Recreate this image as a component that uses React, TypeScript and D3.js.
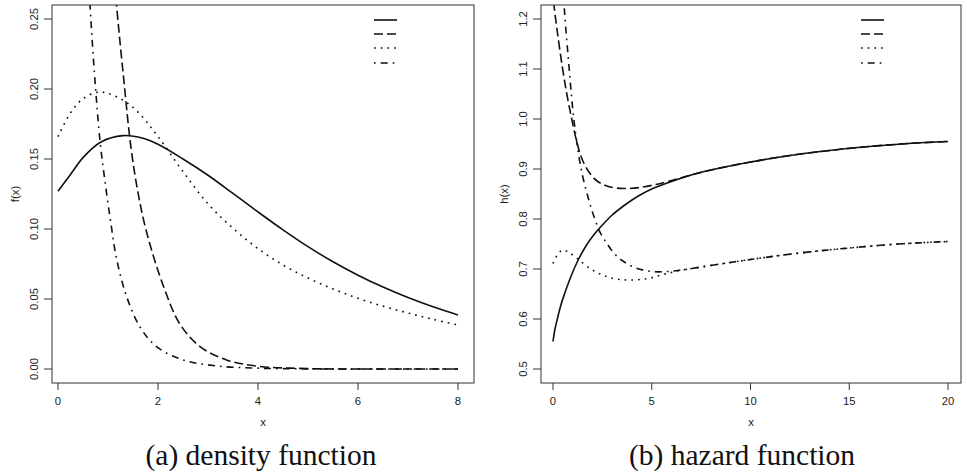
import * as d3 from "d3";

type Pt = [number, number];

// tick values
const densityXTicks = [0, 2, 4, 6, 8];
const densityYTicks = [0, 0.05, 0.1, 0.15, 0.2, 0.25];
const hazardXTicks = [0, 5, 10, 15, 20];
const hazardYTicks = [0.5, 0.6, 0.7, 0.8, 0.9, 1.0, 1.1, 1.2];

// (a) density curves
const densitySolid: Pt[] = [
  [0, 0.127], [0.25, 0.139], [0.5, 0.151], [0.85, 0.162], [1.3, 0.1667], [1.7, 0.1648],
  [2, 0.1605], [2.5, 0.15], [3, 0.1384], [3.5, 0.1254], [4, 0.1122], [4.5, 0.0994],
  [5, 0.0874], [5.5, 0.0766], [6, 0.067], [6.5, 0.0585], [7, 0.051], [7.5, 0.0444], [8, 0.0386],
];
const densityDashed: Pt[] = [
  [1.0, 0.33], [1.17, 0.26], [1.32, 0.205], [1.46, 0.158], [1.6, 0.126], [1.77, 0.098],
  [2.1, 0.06], [2.44, 0.032], [2.84, 0.016], [3.37, 0.0065], [4, 0.002], [5, 0.0003],
  [6, 0], [8, 0],
];
const densityDotted: Pt[] = [
  [0, 0.166], [0.25, 0.183], [0.5, 0.193], [0.8, 0.1978], [1.0, 0.1968], [1.3, 0.192],
  [1.6, 0.1835], [2, 0.166], [2.5, 0.141], [3, 0.118], [3.5, 0.1005], [4, 0.086],
  [4.5, 0.0743], [5, 0.065], [5.5, 0.0572], [6, 0.0505], [6.5, 0.0449], [7, 0.04],
  [7.5, 0.0355], [8, 0.0314],
];
const densityDotDash: Pt[] = [
  [0.5, 0.36], [0.64, 0.26], [0.74, 0.206], [0.84, 0.163], [0.94, 0.134], [1.05, 0.106],
  [1.17, 0.079], [1.37, 0.052], [1.64, 0.03], [1.97, 0.016], [2.5, 0.0065], [3.17, 0.0022],
  [4, 0.0006], [5, 0.0001], [6, 0], [8, 0],
];

// (b) hazard curves
const hazardSolid: Pt[] = [
  [0, 0.555], [0.1, 0.58], [0.22, 0.6], [0.4, 0.628], [0.6, 0.652], [0.8, 0.674], [1.0, 0.694],
  [1.3, 0.72], [1.7, 0.748], [2.1, 0.77], [2.5, 0.788], [3, 0.808], [3.5, 0.824], [4, 0.838],
  [4.5, 0.85], [5, 0.86], [6, 0.875], [7, 0.888], [8, 0.898], [10, 0.914], [12, 0.927],
  [14, 0.937], [16, 0.945], [18, 0.951], [20, 0.955],
];
const hazardDashed: Pt[] = [
  [0, 1.26], [0.05, 1.228], [0.2, 1.18], [0.45, 1.11], [0.7, 1.05], [0.95, 1.0], [1.2, 0.955],
  [1.45, 0.922], [1.8, 0.895], [2.2, 0.877], [2.8, 0.865], [3.6, 0.861], [4.4, 0.863],
  [5.2, 0.869], [6, 0.877], [7, 0.888], [8, 0.898], [10, 0.914], [12, 0.927], [14, 0.937],
  [16, 0.945], [18, 0.951], [20, 0.955],
];
const hazardDotted: Pt[] = [
  [0, 0.711], [0.25, 0.73], [0.5, 0.738], [0.8, 0.733], [1.2, 0.722], [1.8, 0.703],
  [2.5, 0.688], [3.2, 0.68], [4, 0.678], [4.8, 0.681], [5.5, 0.688], [6.3, 0.696],
  [7.5, 0.704], [10, 0.719], [12.5, 0.732], [15, 0.742], [17.5, 0.75], [20, 0.755],
];
const hazardDotDash: Pt[] = [
  [0.45, 1.31], [0.55, 1.235], [0.65, 1.18], [0.8, 1.11], [1.0, 1.02], [1.2, 0.955],
  [1.45, 0.895], [1.8, 0.84], [2.1, 0.802], [2.4, 0.772], [2.75, 0.75], [3.1, 0.731],
  [3.5, 0.717], [4.2, 0.702], [5, 0.695], [5.8, 0.695], [6.5, 0.698], [7.5, 0.704],
  [10, 0.719], [12.5, 0.732], [15, 0.742], [17.5, 0.75], [20, 0.755],
];

const dashes = [null, "9,4", "1.7,5", "1.7,5,7,5"];
const ink = "#111";
const axisFont = "'Liberation Sans', Arial, Helvetica, sans-serif";

type PanelProps = {
  id: string;
  box: { left: number; right: number; top: number; bottom: number };
  xDomain: [number, number];
  xRange: [number, number];
  yDomain: [number, number];
  yRange: [number, number];
  xTicks: number[];
  yTicks: number[];
  yFormat: string;
  yLabel: string;
  caption: string;
  captionX: number;
  series: Pt[][];
};

function Panel(props: PanelProps) {
  const { box } = props;
  const x = d3.scaleLinear().domain(props.xDomain).range(props.xRange);
  const y = d3.scaleLinear().domain(props.yDomain).range(props.yRange);
  const line = d3
    .line<Pt>()
    .x((d) => x(d[0]))
    .y((d) => y(d[1]))
    .curve(d3.curveCatmullRom.alpha(0.5));
  const fmt = d3.format(props.yFormat);
  const legendX0 = box.right - 100;
  const legendX1 = box.right - 77;
  const legendY = [20, 34, 48, 63];

  return (
    <g>
      <defs>
        <clipPath id={props.id}>
          <rect x={box.left} y={box.top} width={box.right - box.left} height={box.bottom - box.top} />
        </clipPath>
      </defs>
      <g clipPath={`url(#${props.id})`}>
        {props.series.map((s, i) => (
          <path
            key={i}
            d={line(s) || ""}
            fill="none"
            stroke={ink}
            strokeWidth={1.6}
            strokeDasharray={dashes[i] || undefined}
          />
        ))}
      </g>
      {/* legend: line samples only */}
      {legendY.map((ly, i) => (
        <line
          key={i}
          x1={legendX0}
          x2={legendX1}
          y1={ly}
          y2={ly}
          stroke={ink}
          strokeWidth={1.6}
          strokeDasharray={dashes[i] || undefined}
        />
      ))}
      <rect
        x={box.left}
        y={box.top}
        width={box.right - box.left}
        height={box.bottom - box.top}
        fill="none"
        stroke="#333"
        strokeWidth={1}
      />
      {/* x axis */}
      {props.xTicks.map((t) => (
        <g key={t}>
          <line x1={x(t)} x2={x(t)} y1={box.bottom} y2={box.bottom + 7} stroke="#333" />
          <text
            x={x(t)}
            y={box.bottom + 22}
            textAnchor="middle"
            fontFamily={axisFont}
            fontSize={11.3}
            fill="#222"
          >
            {t}
          </text>
        </g>
      ))}
      <text
        x={(box.left + box.right) / 2}
        y={box.bottom + 43}
        textAnchor="middle"
        fontFamily={axisFont}
        fontSize={11.3}
        fill="#222"
      >
        x
      </text>
      {/* y axis */}
      {props.yTicks.map((t) => (
        <g key={t}>
          <line x1={box.left - 8} x2={box.left} y1={y(t)} y2={y(t)} stroke="#333" />
          <text
            transform={`translate(${box.left - 14},${y(t)}) rotate(-90)`}
            textAnchor="middle"
            fontFamily={axisFont}
            fontSize={11.3}
            fill="#222"
          >
            {fmt(t)}
          </text>
        </g>
      ))}
      <text
        transform={`translate(${box.left - 33},${(box.top + box.bottom) / 2}) rotate(-90)`}
        textAnchor="middle"
        fontFamily={axisFont}
        fontSize={11.3}
        fill="#222"
      >
        {props.yLabel}
      </text>
      <text
        x={props.captionX}
        y={465}
        textAnchor="middle"
        fontFamily="'Liberation Serif', 'Times New Roman', serif"
        fontSize={29.5}
        fill="#111"
      >
        {props.caption}
      </text>
    </g>
  );
}

export default function App() {
  return (
    <svg
      width={967}
      height={475}
      style={{ position: "absolute", left: 0, top: 0, background: "#fff" }}
    >
      <rect width={967} height={475} fill="#fff" />
      <Panel
        id="clipA"
        box={{ left: 52, right: 474, top: 5, bottom: 383 }}
        xDomain={[0, 8]}
        xRange={[58, 458]}
        yDomain={[0, 0.25]}
        yRange={[369, 19]}
        xTicks={densityXTicks}
        yTicks={densityYTicks}
        yFormat=".2f"
        yLabel="f(x)"
        caption="(a) density function"
        captionX={261}
        series={[densitySolid, densityDashed, densityDotted, densityDotDash]}
      />
      <Panel
        id="clipB"
        box={{ left: 541, right: 961, top: 5, bottom: 383 }}
        xDomain={[0, 20]}
        xRange={[553, 948]}
        yDomain={[0.5, 1.2]}
        yRange={[369, 19]}
        xTicks={hazardXTicks}
        yTicks={hazardYTicks}
        yFormat=".1f"
        yLabel="h(x)"
        caption="(b) hazard function"
        captionX={742}
        series={[hazardSolid, hazardDashed, hazardDotted, hazardDotDash]}
      />
    </svg>
  );
}
